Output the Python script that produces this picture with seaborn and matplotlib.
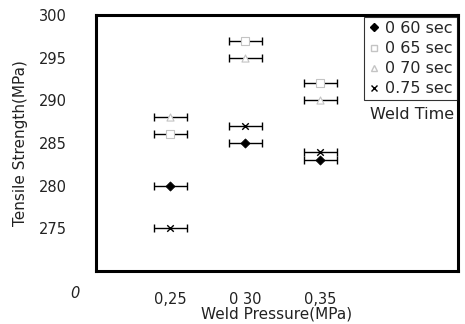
import matplotlib
matplotlib.use("Agg")
import matplotlib.pyplot as plt
import seaborn as sns
import pandas as pd
from matplotlib.lines import Line2D

pressure = [0.25, 0.30, 0.35]
weld_times = ["0 60 sec", "0 65 sec", "0 70 sec", "0.75 sec"]
strength_060 = [280, 285, 283]
strength_065 = [286, 297, 292]
strength_070 = [288, 295, 290]
strength_075 = [275, 287, 284]
x_err = 0.011
y_ticks = [275, 280, 285, 290, 295, 300]
x_ticks = [0.25, 0.30, 0.35]
x_ticklabels = ["0,25", "0 30", "0,35"]

series = [strength_060, strength_065, strength_070, strength_075]
rows = []
for t, vals in zip(weld_times, series):
    for p, v in zip(pressure, vals):
        rows.append({"Weld Pressure": p, "Tensile Strength": v, "Weld Time": t})
df = pd.DataFrame(rows)

sns.set_theme(style="white")
plt.rcParams["font.family"] = ["DejaVu Sans"]

fig = plt.figure(figsize=(4.65, 3.24), dpi=100)
ax = fig.add_axes([96/465, 1-271/324, (458-96)/465, (271-15)/324])

ax.errorbar(df["Weld Pressure"], df["Tensile Strength"], xerr=x_err, fmt="none",
            ecolor="black", elinewidth=1.0, capsize=3, capthick=1.0, zorder=2)

light = "#c4c4c4"
styles = {
    "0 60 sec": dict(marker="D", color="black", edgecolor="black", s=22, linewidth=0.5),
    "0 65 sec": dict(marker="s", color="white", edgecolor=light, s=26, linewidth=0.8),
    "0 70 sec": dict(marker="^", color="white", edgecolor=light, s=26, linewidth=0.8),
    "0.75 sec": dict(marker="x", color="black", s=22, linewidth=1.0),
}
for t in weld_times:
    sub = df[df["Weld Time"] == t]
    sns.scatterplot(data=sub, x="Weld Pressure", y="Tensile Strength", ax=ax,
                    legend=False, zorder=3, **styles[t])

ax.set_xlim(0.2005, 0.442)
ax.set_ylim(270, 300)
ax.set_yticks(y_ticks)
ax.set_xticks(x_ticks)
ax.set_xticklabels(x_ticklabels)
ax.tick_params(axis="both", direction="in", length=3, width=0.8, colors="black",
               labelsize=10.5, labelcolor="#222222")
ax.tick_params(axis="y", pad=21)
ax.tick_params(axis="x", pad=15)
ax.text(-0.058, -0.086, "0", transform=ax.transAxes, fontsize=10.5, ha="center", va="center",
        color="#222222", style="italic")
for sp in ax.spines.values():
    sp.set_linewidth(2.2)
    sp.set_color("black")
ax.set_xlabel("Weld Pressure(MPa)", fontsize=11, color="#222222", labelpad=0)
ax.set_ylabel("Tensile Strength(MPa)", fontsize=11, color="#222222", labelpad=8)

handles = [
    Line2D([], [], marker="D", color="black", linestyle="none", markersize=4),
    Line2D([], [], marker="s", markerfacecolor="white", markeredgecolor=light, linestyle="none", markersize=4),
    Line2D([], [], marker="^", markerfacecolor="white", markeredgecolor=light, linestyle="none", markersize=4),
    Line2D([], [], marker="x", color="black", linestyle="none", markersize=4),
]
leg = ax.legend(handles, weld_times, loc="upper right", bbox_to_anchor=(0.997, 0.992),
                fontsize=11.5, frameon=True, fancybox=False, borderpad=0.25, handletextpad=0.3,
                labelspacing=0.32, handlelength=0.8, borderaxespad=0.0)
leg.get_frame().set_edgecolor("black")
leg.get_frame().set_linewidth(0.8)
ax.text(0.873, 0.612, "Weld Time", transform=ax.transAxes, fontsize=11.5, ha="center",
        va="center", color="#222222")

fig.savefig("out.png", dpi=100)
